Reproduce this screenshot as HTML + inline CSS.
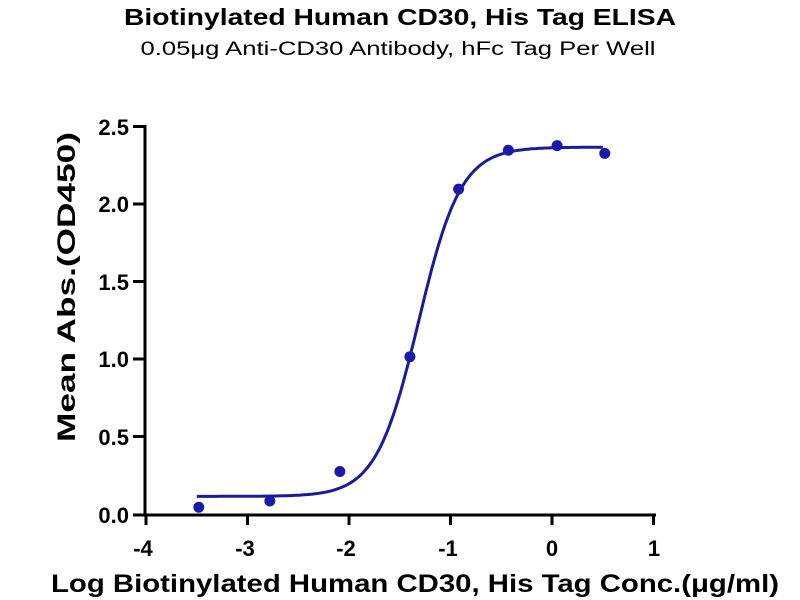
<!DOCTYPE html>
<html><head><meta charset="utf-8"><style>
body{margin:0;background:#fff}
svg{display:block;font-family:"Liberation Sans",Arial,sans-serif}
</style></head><body>
<svg id="s" width="800" height="600" viewBox="0 0 800 600">
<text x="400" y="25" text-anchor="middle" font-size="23" font-weight="bold" textLength="552" lengthAdjust="spacingAndGlyphs">Biotinylated Human CD30, His Tag ELISA</text>
<text x="398" y="55" text-anchor="middle" font-size="19" textLength="515" lengthAdjust="spacingAndGlyphs">0.05μg Anti-CD30 Antibody, hFc Tag Per Well</text>
<g stroke="#000" stroke-width="3" fill="none">
<path d="M145,125 V515 M133,515 H656"/>
<path d="M133,126.5 H145 M133,204 H145 M133,281.5 H145 M133,359 H145 M133,436.5 H145"/>
<path d="M146,515 V525 M247.5,515 V525 M349,515 V525 M450.5,515 V525 M552,515 V525 M653.5,515 V525"/>
</g>
<g font-size="22" font-weight="bold" text-anchor="end">
<text x="129" y="135">2.5</text><text x="129" y="212">2.0</text><text x="129" y="290">1.5</text>
<text x="129" y="367">1.0</text><text x="129" y="445">0.5</text><text x="129" y="523">0.0</text>
</g>
<g font-size="22" font-weight="bold" text-anchor="middle">
<text x="143" y="556">-4</text><text x="245" y="556">-3</text><text x="346" y="556">-2</text>
<text x="448" y="556">-1</text><text x="552" y="556">0</text><text x="654" y="556">1</text>
</g>
<text transform="translate(75,287) rotate(-90)" text-anchor="middle" font-size="25" font-weight="bold" textLength="310" lengthAdjust="spacingAndGlyphs">Mean Abs.(OD450)</text>
<text x="415" y="592" text-anchor="middle" font-size="25" font-weight="bold" textLength="728" lengthAdjust="spacingAndGlyphs">Log Biotinylated Human CD30, His Tag Conc.(μg/ml)</text>
<path id="c" fill="none" stroke="#1a1a9a" stroke-width="3"/>
<g id="p" fill="#1a1aa8"></g>
</svg>
<script>
var X=function(v){return 146+(v+4)*101.5},Y=function(v){return 515-v*155.2};
var b=0.12,t=2.37,c=-1.315,h=2.08,d="";
for(var x=-3.5;x<=0.52;x+=0.02){var y=b+(t-b)/(1+Math.pow(10,(c-x)*h));d+=(d?"L":"M")+X(x).toFixed(1)+","+Y(y).toFixed(1);}
document.getElementById("c").setAttribute("d",d);
var pts=[[-3.48,0.05],[-2.78,0.09],[-2.09,0.28],[-1.40,1.02],[-0.92,2.10],[-0.43,2.35],[0.05,2.38],[0.52,2.33]],g=document.getElementById("p");
pts.forEach(function(p){var e=document.createElementNS("http://www.w3.org/2000/svg","circle");e.setAttribute("cx",X(p[0]));e.setAttribute("cy",Y(p[1]));e.setAttribute("r",5.5);g.appendChild(e);});
</script>
</body></html>
